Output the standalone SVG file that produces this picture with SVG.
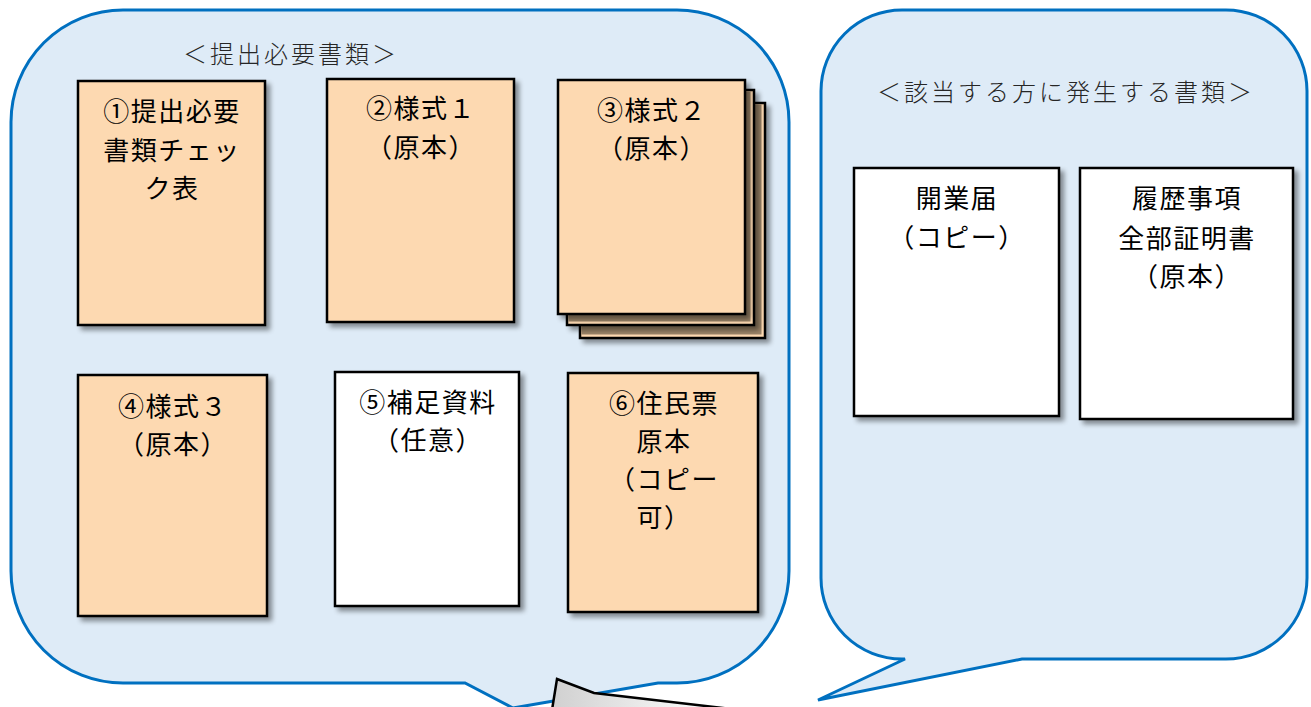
<svg xmlns="http://www.w3.org/2000/svg" width="1311" height="707" viewBox="0 0 1311 707">
<style>
.bubble{fill:#deebf7;stroke:#0070c0;stroke-width:3;stroke-linejoin:miter}
.page{stroke:#000;stroke-width:2.5}
.peach{fill:#fdd9b1}
.white{fill:#fff}
.shade{fill:#9b8468}
.t{font-family:"Noto Sans CJK JP","Noto Sans CJK SC",sans-serif;font-size:26px;fill:#000;text-anchor:middle;letter-spacing:1.5px}
.h{font-family:"Noto Sans CJK JP","Noto Sans CJK SC",sans-serif;font-size:24px;font-weight:300;fill:#262626;text-anchor:middle;letter-spacing:3px}
</style>
<defs>
<filter id="sh" x="-10%" y="-10%" width="130%" height="130%">
<feGaussianBlur in="SourceAlpha" stdDeviation="2.5"/>
<feOffset dx="4" dy="4" result="b"/>
<feComponentTransfer><feFuncA type="linear" slope="0.42"/></feComponentTransfer>
<feMerge><feMergeNode/><feMergeNode in="SourceGraphic"/></feMerge>
</filter>
<linearGradient id="gg" x1="0" y1="0" x2="1" y2="0">
<stop offset="0" stop-color="#d0d0d0"/>
<stop offset="0.7" stop-color="#f6f6f6"/>
<stop offset="1" stop-color="#ffffff"/>
</linearGradient>
</defs>
<rect width="1311" height="707" fill="#fff"/>
<g id="bubble-left">
<path class="bubble" d="M123,10 H677 A112,112 0 0 1 789,122 V571 A112,112 0 0 1 677,683 H658 L513,708 L465,683 H123 A112,112 0 0 1 11,571 V122 A112,112 0 0 1 123,10 Z"/>
<text class="h" x="291" y="63">＜提出必要書類＞</text>
</g>
<g id="bubble-right">
<path class="bubble" d="M902,10 H1226 A81,81 0 0 1 1307,91 V578 A81,81 0 0 1 1226,659 H1022 L818,700 L905,659 H902 A81,81 0 0 1 821,578 V91 A81,81 0 0 1 902,10 Z"/>
<text class="h" x="1066" y="101">＜該当する方に発生する書類＞</text>
</g>
<g id="callout-bottom">
<path d="M557,679 L594,693 L740,710 L552,710 Z" fill="url(#gg)" stroke="#000" stroke-width="2.5" stroke-linejoin="miter"/>
</g>
<g id="doc1">
<rect class="page peach" x="78" y="81" width="187" height="244" filter="url(#sh)"/>
<text class="t" x="172" y="121">①提出必要</text>
<text class="t" x="172" y="160">書類チェッ</text>
<text class="t" x="172" y="198">ク表</text>
</g>
<g id="doc2">
<rect class="page peach" x="327" y="79" width="187" height="243" filter="url(#sh)"/>
<text class="t" x="421" y="118">②様式１</text>
<text class="t" x="421" y="157">（原本）</text>
</g>
<g id="doc3">
<rect class="page peach" x="580" y="103" width="185" height="235" filter="url(#sh)"/>
<rect class="shade" x="581.5" y="104.5" width="180" height="230"/>
<rect class="page peach" x="567" y="90" width="187" height="235" filter="url(#sh)"/>
<rect class="shade" x="568.5" y="91.5" width="182" height="230"/>
<rect class="page peach" x="558" y="80" width="187" height="234" filter="url(#sh)"/>
<text class="t" x="652" y="120">③様式２</text>
<text class="t" x="652" y="158">（原本）</text>
</g>
<g id="doc4">
<rect class="page peach" x="78" y="375" width="189" height="241" filter="url(#sh)"/>
<text class="t" x="173" y="416">④様式３</text>
<text class="t" x="173" y="454">（原本）</text>
</g>
<g id="doc5">
<rect class="page white" x="335" y="372" width="184" height="234" filter="url(#sh)"/>
<text class="t" x="428" y="412">⑤補足資料</text>
<text class="t" x="428" y="450">（任意）</text>
</g>
<g id="doc6">
<rect class="page peach" x="568" y="373" width="190" height="239" filter="url(#sh)"/>
<text class="t" x="664" y="413">⑥住民票</text>
<text class="t" x="664" y="451">原本</text>
<text class="t" x="664" y="489">（コピー</text>
<text class="t" x="664" y="527">可）</text>
</g>
<g id="doc7">
<rect class="page white" x="854" y="168" width="205" height="248" filter="url(#sh)"/>
<text class="t" x="957" y="208">開業届</text>
<text class="t" x="957" y="247">（コピー）</text>
</g>
<g id="doc8">
<rect class="page white" x="1080" y="168" width="213" height="251" filter="url(#sh)"/>
<text class="t" x="1187" y="208">履歴事項</text>
<text class="t" x="1187" y="248">全部証明書</text>
<text class="t" x="1187" y="286">（原本）</text>
</g>
</svg>
